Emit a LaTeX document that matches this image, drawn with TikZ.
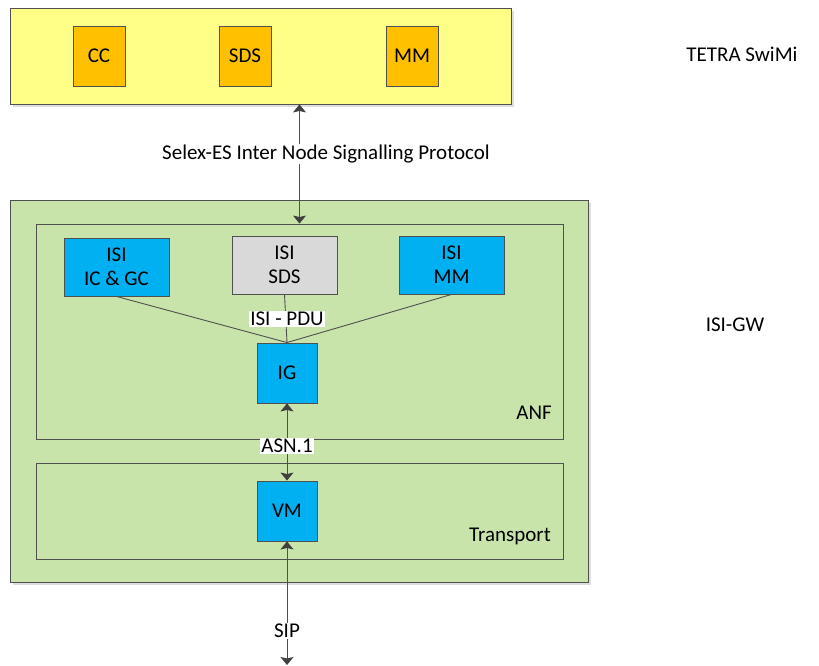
\documentclass[tikz,border=0pt]{standalone}
\usepackage{fontspec}
\setmainfont{Carlito}
\usetikzlibrary{arrows.meta,calc}
\definecolor{yelfill}{RGB}{255,255,136}
\definecolor{orfill}{RGB}{255,192,0}
\definecolor{bluefill}{RGB}{0,176,240}
\definecolor{grayfill}{RGB}{217,217,217}
\definecolor{grnfill}{RGB}{200,228,170}
\definecolor{edge}{RGB}{80,80,80}
\definecolor{headc}{RGB}{64,64,64}
\definecolor{shadowc}{RGB}{222,222,222}
\tikzset{
  base/.style={draw=edge, line width=0.9pt, inner sep=0pt, align=center, font=\fontsize{21}{24}\selectfont},
  yelbox/.style={base, fill=yelfill},
  grnbox/.style={base, fill=grnfill},
  frame/.style={base, draw=edge},
  orbox/.style={base, fill=orfill, minimum width=52pt, minimum height=60pt},
  isibox/.style={base, fill=bluefill, minimum width=105pt, minimum height=58pt},
  isigray/.style={base, fill=grayfill, minimum width=105pt, minimum height=58pt},
  sqbox/.style={base, fill=bluefill, minimum width=60pt, minimum height=60pt},
  lbl/.style={font=\fontsize{21}{24}\selectfont, inner sep=1pt},
  wlbl/.style={lbl, fill=white},
  conn/.style={draw=edge, line width=0.9pt},
  biarrow/.style={conn, {Stealth[length=8pt,width=13pt,inset=1.5pt,color=headc]}-{Stealth[length=8pt,width=13pt,inset=1.5pt,color=headc]}},
}
\begin{document}
\begin{tikzpicture}[x=1pt,y=-1pt]
\useasboundingbox (0,0) rectangle (819,666);
\fill[white] (0,0) rectangle (819,666);
% shadows
\fill[shadowc] (13,11) rectangle (514,107);
\fill[shadowc] (13,203) rectangle (591,585);
% outer boxes
\node[yelbox, minimum width=501pt, minimum height=96pt] (yel) at (260.5,56) {};
\node[grnbox, minimum width=578pt, minimum height=382pt] (grn) at (299,391) {};
\node[frame, minimum width=527pt, minimum height=215pt] (anf) at (299.5,331.5) {};
\node[frame, minimum width=527pt, minimum height=96pt] (trans) at (299.5,511) {};
% top nodes
\node[orbox] (cc) at (99,56) {CC};
\node[orbox] (sds) at (245,56) {SDS};
\node[orbox] (mm) at (412,56) {MM};
% ISI nodes
\node[isibox] (isiic) at (116.5,267) {ISI\\IC \& GC};
\node[isigray] (isisds) at (284.5,265) {ISI\\SDS};
\node[isibox] (isimm) at (451.5,265) {ISI\\MM};
\node[sqbox] (ig) at (287,373) {IG};
\node[sqbox] (vm) at (287,511) {VM};
% side labels
\node[lbl] (tetra) at (742,54) {TETRA SwiMi};
\node[lbl] (isigw) at (735,325) {ISI-GW};
\node[lbl, anchor=east] (anflbl) at (553,413) {ANF};
\node[lbl, anchor=east] (translbl) at (552,536) {Transport};
% connectors
\draw[biarrow] (anf.north |- yel.south) -- (anf.north);
\node[wlbl] (selex) at (326,154) {Selex-ES Inter Node Signalling Protocol};
\draw[conn] (isiic.south) -- (ig.north);
\draw[conn] (isisds.south) -- (ig.north);
\draw[conn] (isimm.south) -- (ig.north);
\node[wlbl] (pdu) at (287,319) {ISI - PDU};
\draw[biarrow] (ig.south) -- (vm.north);
\node[wlbl] (asn) at (287,446) {ASN.1};
\coordinate (sipend) at (287,665);
\draw[biarrow] (vm.south) -- (sipend);
\node[wlbl] (sip) at (287,631) {SIP};
\end{tikzpicture}
\end{document}
